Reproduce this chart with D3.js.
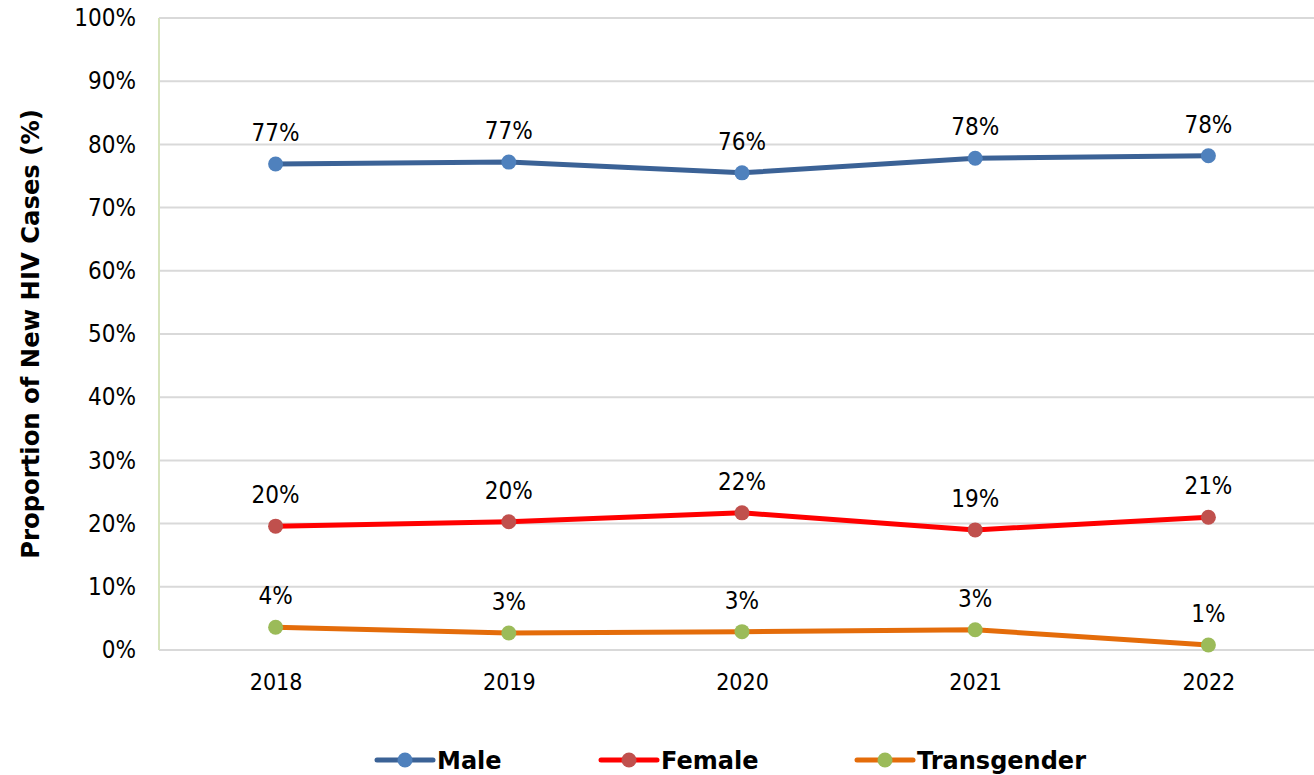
<html>
<head>
<meta charset="utf-8">
<script src="https://d3js.org/d3.v7.min.js"></script>
<style>
body { margin:0; background:#fff; }
.tick text { font-family:"DejaVu Sans Condensed","DejaVu Sans",sans-serif; font-size:24px; fill:#000; }
.xaxis .tick text { font-size:23px; }
</style>
</head>
<body>
<svg width="1314" height="775"></svg>
<script>
// chart values
var years = ["2018", "2019", "2020", "2021", "2022"];
var male = [76.9, 77.2, 75.5, 77.8, 78.2];
var female = [19.6, 20.3, 21.7, 19.0, 21.0];
var transgender = [3.6, 2.7, 2.9, 3.2, 0.8];
var maleLabels = ["77%", "77%", "76%", "78%", "78%"];
var femaleLabels = ["20%", "20%", "22%", "19%", "21%"];
var transLabels = ["4%", "3%", "3%", "3%", "1%"];
var yTicks = [0, 10, 20, 30, 40, 50, 60, 70, 80, 90, 100];

var series = [
	{name:"Male", values:male, labels:maleLabels, line:"#3b6296", dot:"#4f81bd"},
	{name:"Female", values:female, labels:femaleLabels, line:"#ff0000", dot:"#c0504d"},
	{name:"Transgender", values:transgender, labels:transLabels, line:"#e46c0a", dot:"#9bbb59"}
];

var width = 1314, height = 775;
var margin = {top: 18, right: -11, bottom: 125, left: 159};
var svg = d3.select("svg");

var x = d3.scalePoint()
	.domain(years)
	.range([margin.left, width - margin.right])
	.padding(0.5);
var y = d3.scaleLinear()
	.domain([0, 100])
	.range([height - margin.bottom, margin.top]);

// gridlines
svg.append("g")
	.selectAll("line")
	.data(yTicks)
	.enter().append("line")
	.attr("x1", margin.left)
	.attr("x2", width)
	.attr("y1", d => y(d))
	.attr("y2", d => y(d))
	.attr("stroke", "#d9d9d9")
	.attr("stroke-width", 2);

// y axis line
svg.append("line")
	.attr("x1", margin.left).attr("x2", margin.left)
	.attr("y1", y(0)).attr("y2", y(100))
	.attr("stroke", "#d7e4bd")
	.attr("stroke-width", 2);

// y axis
var yAxis = svg.append("g")
	.attr("transform", "translate(" + margin.left + ",0)")
	.call(d3.axisLeft(y).tickValues(yTicks).tickFormat(d => d + "%").tickSize(0).tickPadding(23));
yAxis.select(".domain").remove();

// x axis
var xAxis = svg.append("g")
	.attr("class", "xaxis")
	.attr("transform", "translate(0," + y(0) + ")")
	.call(d3.axisBottom(x).tickSize(0).tickPadding(24));
xAxis.select(".domain").remove();

// y axis title
svg.append("text")
	.attr("transform", "translate(39," + ((y(0) + y(100)) / 2) + ") rotate(-90)")
	.attr("text-anchor", "middle")
	.style("font-family", "DejaVu Sans, sans-serif")
	.style("font-weight", "bold")
	.style("font-size", "24.3px")
	.text("Proportion of New HIV Cases (%)");

var line = d3.line()
	.x((d, i) => x(years[i]))
	.y(d => y(d));

series.forEach(function(s) {
	svg.append("path")
		.datum(s.values)
		.attr("d", line)
		.attr("fill", "none")
		.attr("stroke", s.line)
		.attr("stroke-width", 5)
		.attr("stroke-linejoin", "round");
	svg.append("g")
		.selectAll("circle")
		.data(s.values)
		.enter().append("circle")
		.attr("cx", (d, i) => x(years[i]))
		.attr("cy", d => y(d))
		.attr("r", 7.5)
		.attr("fill", s.dot);
	svg.append("g")
		.selectAll("text")
		.data(s.values)
		.enter().append("text")
		.attr("x", (d, i) => x(years[i]))
		.attr("y", d => y(d) - 23)
		.attr("text-anchor", "middle")
		.style("font-family", "DejaVu Sans Condensed, DejaVu Sans, sans-serif")
		.style("font-size", "24px")
		.text((d, i) => s.labels[i]);
});

// legend
var legendX = [377, 601, 857];
var legend = svg.append("g");
series.forEach(function(s, i) {
	var g = legend.append("g").attr("transform", "translate(" + legendX[i] + ",760)");
	g.append("line")
		.attr("x1", 0).attr("x2", 56)
		.attr("stroke", s.line)
		.attr("stroke-width", 5)
		.attr("stroke-linecap", "round");
	g.append("circle")
		.attr("cx", 28).attr("r", 7.5)
		.attr("fill", s.dot);
	g.append("text")
		.attr("x", 60)
		.attr("y", 8.5)
		.style("font-family", "DejaVu Sans, sans-serif")
		.style("font-weight", "bold")
		.style("font-size", "24px")
		.text(s.name);
});
</script>
</body>
</html>
